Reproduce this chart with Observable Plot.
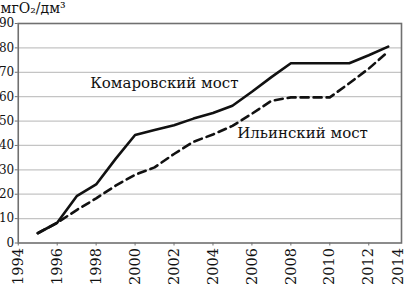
<!DOCTYPE html>
<html>
<head>
<meta charset="utf-8">
<script src="https://cdn.jsdelivr.net/npm/d3@7"></script>
<script src="https://cdn.jsdelivr.net/npm/@observablehq/plot@0.6"></script>
<style>
  html, body { margin: 0; padding: 0; background: #fff; }
  #chart svg { display: block; }
</style>
</head>
<body>
<div id="chart"></div>
<script>
const years = [1995, 1996, 1997, 1998, 1999, 2000, 2001, 2002, 2003, 2004, 2005, 2006, 2007, 2008, 2009, 2010, 2011, 2012, 2013];
const komarovsky = [4, 8.3, 19.2, 24, 34.5, 44.3, 46.3, 48.3, 51, 53.3, 56.3, 62, 68, 73.7, 73.7, 73.7, 73.7, 77, 80.5];
const ilyinsky = [4, 8.3, 13.5, 18.3, 23.5, 28, 31, 36.5, 41.5, 44.5, 48, 53, 58.3, 59.7, 59.7, 59.7, 65.5, 71.5, 78.5];
const seriesNames = ["Комаровский мост", "Ильинский мост"];
const labelYears = [2001.5, 2008.6];
const labelValues = [63.5, 43];
const xTicks = [1994, 1996, 1998, 2000, 2002, 2004, 2006, 2008, 2010, 2012];
const xLastTick = [2014];
const yTicks = [0, 10, 20, 30, 40, 50, 60, 70, 80, 90];
const gridTicks = [10, 20, 30, 40, 50, 60, 70, 80];
const yUnit = "мгO₂/дм³";

const komData = years.map((y, i) => ({year: y, value: komarovsky[i]}));
const ilyData = years.map((y, i) => ({year: y, value: ilyinsky[i]}));
const labels = seriesNames.map((n, i) => ({name: n, year: labelYears[i], value: labelValues[i]}));

const font = "'DejaVu Serif', 'Liberation Serif', serif";

const chart = Plot.plot({
  width: 407,
  height: 288,
  marginLeft: 17.75,
  marginRight: 6,
  marginTop: 23,
  marginBottom: 45.5,
  style: {fontFamily: font, background: "#fff", color: "#111"},
  x: {domain: [1994, 2014], range: [17.75, 407.2]},
  y: {domain: [0, 90]},
  marks: [
    Plot.gridY(gridTicks, {stroke: "#c4c4c4", strokeOpacity: 1, strokeWidth: 1.3}),
    Plot.frame({stroke: "#707070", strokeWidth: 1.6}),
    Plot.axisY(yTicks, {tickSize: 3, tickPadding: 1, fontSize: 12, stroke: "#707070", label: null}),
    Plot.axisX(xTicks, {tickSize: 3, tickPadding: 2, tickRotate: -90, fontSize: 14.5, stroke: "#707070", tickFormat: d => String(d), label: null}),
    Plot.axisX(xLastTick, {tickSize: 0, tickPadding: 5, tickRotate: -90, fontSize: 14.5, dx: -9.5, tickFormat: d => String(d), label: null}),
    Plot.line(komData, {x: "year", y: "value", stroke: "#111", strokeWidth: 2.6, strokeLinejoin: "miter"}),
    Plot.line(ilyData, {x: "year", y: "value", stroke: "#111", strokeWidth: 2.6, strokeDasharray: "8,5"}),
    Plot.text(labels, {x: "year", y: "value", text: "name", fontSize: 15, textAnchor: "middle", lineAnchor: "bottom", fill: "#111"}),
    Plot.text([yUnit], {frameAnchor: "top-left", text: d => d, dx: -17.75, dy: -11, fontSize: 14, textAnchor: "start", lineAnchor: "bottom", fill: "#111"})
  ]
});
document.getElementById("chart").appendChild(chart);
</script>
</body>
</html>
